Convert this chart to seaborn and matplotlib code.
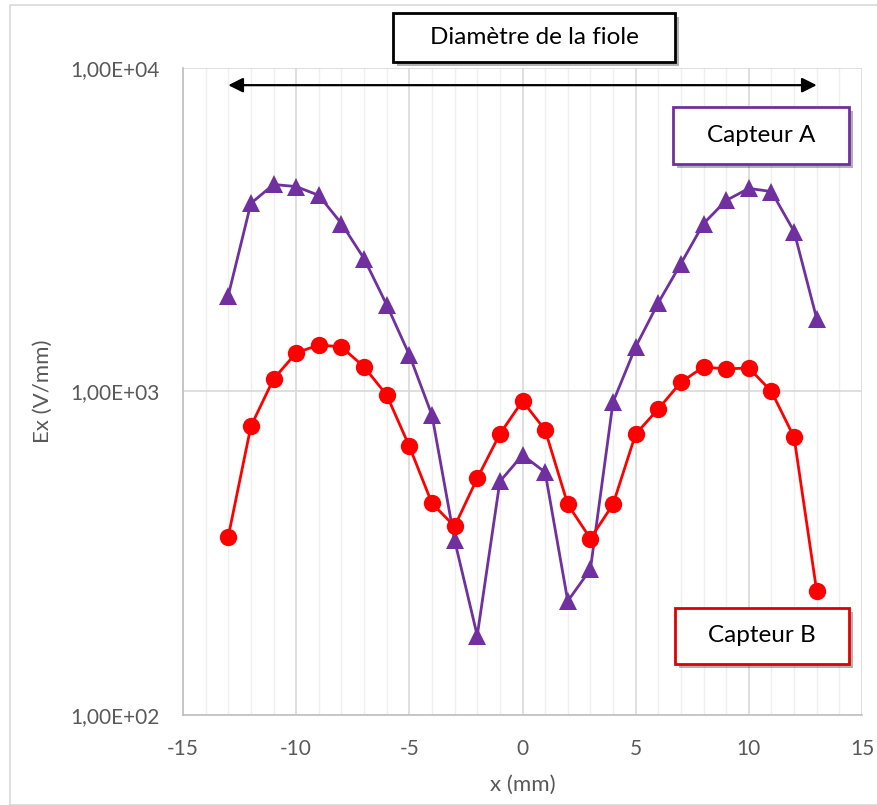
import numpy as np
import pandas as pd
import matplotlib
matplotlib.use("Agg")
import matplotlib.pyplot as plt
import matplotlib.patheffects as pe
from matplotlib.patches import Rectangle
from matplotlib.ticker import FixedLocator, MultipleLocator, NullLocator
import seaborn as sns

# ---- data ----
x_mm = [-13, -12, -11, -10, -9, -8, -7, -6, -5, -4, -3, -2, -1, 0,
        1, 2, 3, 4, 5, 6, 7, 8, 9, 10, 11, 12, 13]
capteur_a = [1980, 3815, 4365, 4300, 4040, 3305, 2575, 1854, 1298, 845, 347, 176, 527, 636,
             563, 225, 282, 927, 1374, 1880, 2485, 3305, 3896, 4245, 4150, 3123, 1678]
capteur_b = [356, 781, 1093, 1316, 1393, 1374, 1191, 975, 677, 451, 383, 539, 739, 935,
             760, 448, 351, 448, 739, 883, 1069, 1191, 1174, 1183, 1000, 722, 241]
y_ticks = [100, 1000, 10000]
y_tick_labels = ["1,00E+02", "1,00E+03", "1,00E+04"]
x_ticks = [-15, -10, -5, 0, 5, 10, 15]
label_a = "Capteur A"
label_b = "Capteur B"
title_box = "Diamètre de la fiole"
arrow_span = [-13, 13]
arrow_level = 8850

sns.set_theme(style="white")
plt.rcParams["font.family"] = ["Lato", "DejaVu Sans"]

df = pd.DataFrame({
    "x": x_mm * 2,
    "Ex": capteur_a + capteur_b,
    "capteur": [label_a] * len(x_mm) + [label_b] * len(x_mm),
})

fig = plt.figure(figsize=(8.78, 8.05), dpi=100)
ax = fig.add_axes([183 / 878, 1 - 715 / 805, (862 - 183) / 878, (715 - 68) / 805])

# outer chart border
fig.patches.append(Rectangle((10 / 878, 1 - 805 / 805), 1.5, (805 - 5) / 805,
                             transform=fig.transFigure, fill=False,
                             edgecolor="#D9D9D9", lw=1.2, zorder=0))

sns.lineplot(data=df, x="x", y="Ex", hue="capteur", style="capteur",
             palette={label_a: "#7030A0", label_b: "#FF0000"},
             markers={label_a: "^", label_b: "o"}, dashes=False,
             markersize=12.5, markeredgewidth=0, linewidth=2, legend=False, ax=ax,
             zorder=3)

ax.set_yscale("log")
ax.set_ylim(100, 10000)
ax.set_xlim(-15, 15)
ax.yaxis.set_major_locator(FixedLocator(y_ticks))
ax.set_yticklabels(y_tick_labels)
ax.yaxis.set_minor_locator(NullLocator())
ax.set_xticks(x_ticks)
ax.set_xticklabels([str(v) for v in x_ticks])
ax.xaxis.set_minor_locator(MultipleLocator(1))

ax.grid(which="minor", axis="x", color="#EFEFEF", lw=1)
ax.grid(which="major", axis="x", color="#D9D9D9", lw=1.2)
ax.grid(which="major", axis="y", color="#D9D9D9", lw=1.2)
ax.set_axisbelow(True)
for s in ["top", "right"]:
    ax.spines[s].set_visible(False)
for s in ["left", "bottom"]:
    ax.spines[s].set_color("#BFBFBF")
    ax.spines[s].set_linewidth(1.2)
ax.tick_params(axis="y", length=0, labelsize=15, colors="#595959", pad=17)
ax.tick_params(axis="x", length=0, labelsize=15, colors="#595959", pad=17)
ax.set_xlabel("x (mm)", fontsize=16, color="#595959", labelpad=12)
ax.set_ylabel("Ex (V/mm)", fontsize=16, color="#595959", labelpad=12)

# arrow for diameter
ax.annotate("", xy=(arrow_span[0], arrow_level), xytext=(arrow_span[1], arrow_level),
            arrowprops=dict(arrowstyle="<|-|>", color="black", lw=1.6,
                            mutation_scale=22, shrinkA=0, shrinkB=0),
            zorder=5)

shadow = [pe.SimplePatchShadow(offset=(3, -3), shadow_rgbFace="black", alpha=0.3), pe.Normal()]

def box(x0, y0, x1, y1, text, edge):
    r = Rectangle((x0 / 878, 1 - y1 / 805), (x1 - x0) / 878, (y1 - y0) / 805,
                  transform=fig.transFigure, facecolor="white", edgecolor=edge,
                  lw=2, zorder=10)
    r.set_path_effects(shadow)
    fig.patches.append(r)
    fig.text((x0 + x1) / 2 / 878, 1 - (y0 + y1) / 2 / 805, text, ha="center",
             va="center", fontsize=17.5, color="black", zorder=11)

box(393, 13, 675, 62, title_box, "black")
box(673, 107, 849, 164, label_a, "#7030A0")
box(675, 608, 849, 664, label_b, "#E00000")

fig.savefig("out.png", dpi=100)
